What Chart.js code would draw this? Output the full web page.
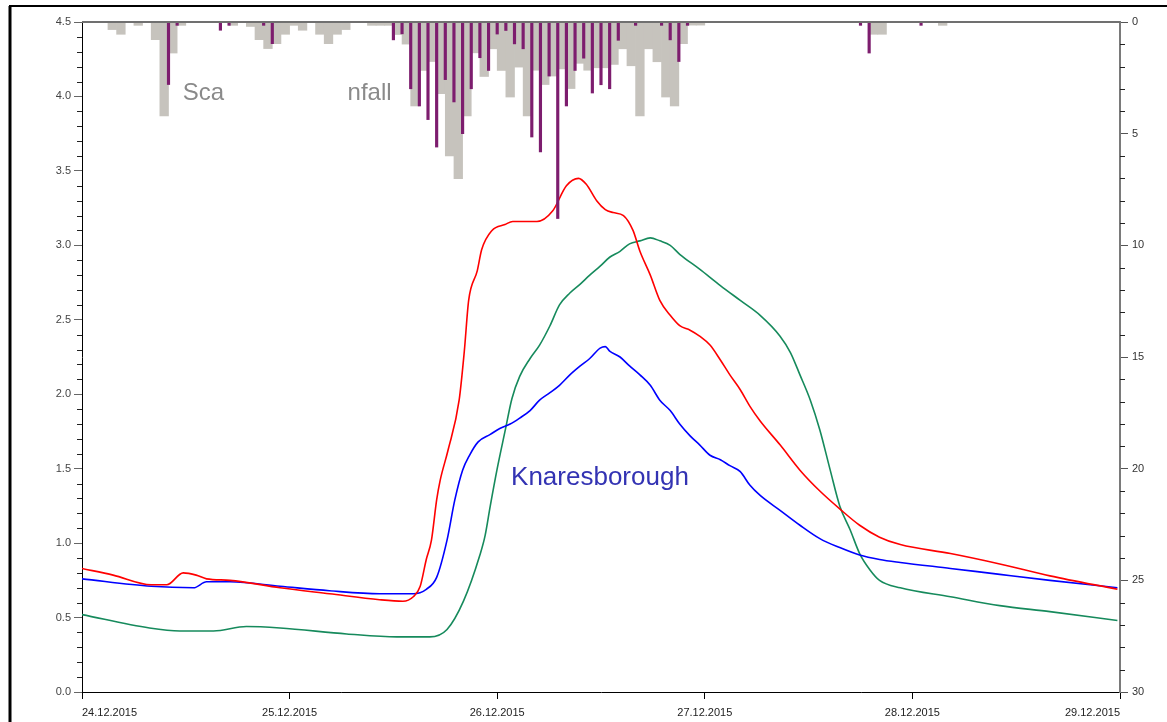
<!DOCTYPE html>
<html><head><meta charset="utf-8">
<script src="https://cdn.jsdelivr.net/npm/chart.js@4/dist/chart.umd.min.js"></script>
<style>html,body{margin:0;padding:0;background:#fff;}canvas{display:block;}</style>
</head><body>
<canvas id="c" width="1167" height="722"></canvas>
<script>
// ---- tick labels ----
const dayLabels = ['24.12.2015','25.12.2015','26.12.2015','27.12.2015','28.12.2015','29.12.2015'];

// ---- river levels (m), time in hours from 24.12.2015 00:00 ----
const redHours = [0,3.6,8.0,9.8,11.7,13.2,14.4,17.1,22.9,28.6,34.4,37.1,38.3,39.1,39.8,40.4,41.0,41.4,42.3,43.6,44.2,44.7,45.7,46.2,47.4,48.9,49.8,52.6,54.4,56.0,57.4,58.3,59.5,60.5,61.4,62.6,63.7,64.5,65.7,66.8,68.0,69.1,70.3,71.4,72.6,73.8,74.9,76.1,77.2,78.4,80.7,83.0,85.3,87.6,89.9,92.2,94.6,100.4,106.1,111.9,119.7];
const redLevel = [0.83,0.785,0.72,0.72,0.80,0.785,0.76,0.75,0.70,0.66,0.62,0.61,0.64,0.71,0.89,1.02,1.29,1.42,1.62,1.96,2.29,2.63,2.83,2.97,3.10,3.14,3.16,3.16,3.23,3.40,3.45,3.41,3.30,3.24,3.22,3.20,3.10,2.96,2.80,2.63,2.53,2.46,2.43,2.39,2.33,2.23,2.13,2.03,1.92,1.82,1.66,1.49,1.35,1.23,1.12,1.04,0.99,0.93,0.86,0.78,0.69];

const blueHours = [0,8.0,12.9,14.4,17.1,22.9,28.6,34.4,38.3,39.8,41.0,42.2,43.1,44.0,44.8,45.8,47.2,48.3,49.5,50.6,51.8,52.9,54.1,55.2,56.4,57.6,58.7,59.9,60.5,61.0,62.2,63.3,64.5,65.7,66.8,68.0,69.1,70.3,71.4,72.6,73.8,74.9,76.1,77.2,78.4,80.7,83.0,85.3,87.6,89.9,92.2,94.6,100.4,106.1,111.9,119.7];
const blueLevel = [0.76,0.71,0.70,0.74,0.74,0.71,0.68,0.66,0.66,0.69,0.77,1.02,1.29,1.49,1.59,1.68,1.73,1.77,1.80,1.84,1.89,1.96,2.01,2.06,2.13,2.19,2.24,2.31,2.32,2.29,2.25,2.19,2.13,2.06,1.96,1.89,1.80,1.72,1.66,1.59,1.56,1.52,1.48,1.39,1.32,1.22,1.12,1.03,0.97,0.92,0.89,0.87,0.83,0.79,0.75,0.70];

const greenHours = [0,7.8,11.3,15.2,19.0,22.9,30.6,36.4,40.2,42.2,44.1,46.0,46.6,47.2,48.0,48.9,49.7,50.6,51.8,52.9,54.1,55.2,56.4,57.6,58.7,59.9,61.0,62.2,63.3,64.5,65.7,66.8,68.0,69.1,71.4,73.8,76.1,78.4,80.7,81.9,83.0,84.2,85.3,86.5,87.6,88.8,89.9,91.1,92.2,94.6,100.4,106.1,111.9,119.7];
const greenLevel = [0.52,0.43,0.41,0.41,0.44,0.43,0.39,0.37,0.37,0.42,0.61,0.92,1.05,1.25,1.50,1.75,1.97,2.12,2.24,2.33,2.46,2.60,2.68,2.74,2.80,2.86,2.92,2.96,3.01,3.03,3.05,3.03,3.00,2.94,2.84,2.73,2.63,2.53,2.39,2.28,2.13,1.96,1.76,1.49,1.25,1.09,0.93,0.82,0.75,0.70,0.64,0.58,0.54,0.48];

// ---- hourly rainfall (mm), hour index = start of hour ----
const greyHours = [3,4,6,8,9,10,11,17,19,20,21,22,23,24,25,27,28,29,30,33,34,35,36,37,38,39,40,41,42,43,44,45,46,47,48,49,50,51,52,53,54,55,56,57,58,59,60,61,62,63,64,65,66,67,68,69,70,71,91,92,99];
const greyRain = [0.34,0.55,0.15,0.79,4.2,1.39,0.15,0.15,0.2,0.79,1.19,0.97,0.55,0.15,0.37,0.55,0.97,0.55,0.34,0.15,0.15,0.15,0.56,0.99,3.76,2.17,1.77,3.21,6.0,7.01,4.21,1.38,2.44,1.2,2.17,3.36,2.02,4.2,2.16,2.8,2.42,2.1,2.98,1.85,2.16,2.05,2.05,1.9,1.2,1.96,4.2,1.2,1.78,3.36,3.76,0.97,0.14,0.14,0.55,0.55,0.15];

const purpleHours = [10,11,16,17,21,22,36,37,38,39,40,41,42,43,44,45,46,47,48,49,50,51,52,53,54,55,56,57,58,59,60,61,62,64,67,68,69,70,90,91,97];
const purpleRain = [2.8,0.15,0.37,0.15,0.15,0.97,0.80,0.53,2.99,3.76,4.37,5.6,2.58,3.58,5.0,2.99,1.6,2.17,0.54,0.38,0.98,1.2,5.15,5.82,2.42,8.8,3.76,2.17,1.62,3.18,2.81,2.99,0.82,0.15,0.15,0.8,1.77,0.15,0.15,1.39,0.15];

// ---- text annotations (data coordinates) ----
const gaugeLabelParts = [{text:'Sca', hour:11.65, mm:3.5}, {text:'nfall', hour:30.7, mm:3.5}];
const stationLabel = {text:'Knaresborough', hour:49.6, level:1.39};

const FONT = "'Liberation Sans', Arial, sans-serif";
Chart.defaults.font.family = FONT;

const pts = (hs, vs, dx) => hs.map((h, i) => ({x: h + (dx || 0), y: vs[i]}));

const decor = {
  id: 'decor',
  beforeDatasetsDraw(chart) {
    const {ctx, scales} = chart;
    ctx.save();
    ctx.font = '24px ' + FONT;
    ctx.fillStyle = '#8a8a8a';
    ctx.textBaseline = 'alphabetic';
    ctx.textAlign = 'left';
    gaugeLabelParts.forEach(p => {
      ctx.fillText(p.text, scales.x.getPixelForValue(p.hour), scales.y2.getPixelForValue(p.mm));
    });
    ctx.restore();
  },
  afterDraw(chart) {
    const {ctx, scales, chartArea} = chart;
    const y = scales.y, y2 = scales.y2;
    ctx.save();
    // top plot line
    ctx.strokeStyle = '#707070'; ctx.lineWidth = 2;
    ctx.beginPath(); ctx.moveTo(chartArea.left, chartArea.top); ctx.lineTo(chartArea.right, chartArea.top); ctx.stroke();
    // minor ticks
    ctx.strokeStyle = '#222'; ctx.lineWidth = 1;
    for (let k = 0; k <= 45; k++) {
      if (k % 5 === 0) continue;
      const py = Math.round(y.getPixelForValue(k / 10)) + 0.5;
      ctx.beginPath(); ctx.moveTo(y.right - 5, py); ctx.lineTo(y.right, py); ctx.stroke();
    }
    for (let k = 0; k <= 30; k++) {
      if (k % 5 === 0) continue;
      const py = Math.round(y2.getPixelForValue(k)) + 0.5;
      ctx.beginPath(); ctx.moveTo(y2.left, py); ctx.lineTo(y2.left + 5, py); ctx.stroke();
    }
    // station label
    ctx.font = '26px ' + FONT;
    ctx.fillStyle = '#3333b3';
    ctx.textAlign = 'left'; ctx.textBaseline = 'alphabetic';
    ctx.fillText(stationLabel.text, scales.x.getPixelForValue(stationLabel.hour), y.getPixelForValue(stationLabel.level));
    // outer frame
    ctx.strokeStyle = '#000';
    ctx.lineWidth = 3;
    ctx.beginPath(); ctx.moveTo(10, 730); ctx.lineTo(10, 6); ctx.stroke();
    ctx.lineWidth = 2;
    ctx.beginPath(); ctx.moveTo(9, 6); ctx.lineTo(1180, 6); ctx.stroke();
    ctx.restore();
  }
};

new Chart(document.getElementById('c'), {
  type: 'line',
  data: {
    datasets: [
      {type:'line', data: pts(redHours, redLevel), borderColor:'#ff0000', borderWidth:1.6, pointRadius:0, cubicInterpolationMode:'monotone', xAxisID:'x', yAxisID:'y', order:3},
      {type:'line', data: pts(blueHours, blueLevel), borderColor:'#0000ff', borderWidth:1.6, pointRadius:0, cubicInterpolationMode:'monotone', xAxisID:'x', yAxisID:'y', order:3},
      {type:'line', data: pts(greenHours, greenLevel), borderColor:'#168a5c', borderWidth:1.6, pointRadius:0, cubicInterpolationMode:'monotone', xAxisID:'x', yAxisID:'y', order:3},
      {type:'bar', data: pts(greyHours, greyRain, 0.5), backgroundColor:'#c6c3bd', borderWidth:0, barPercentage:1, categoryPercentage:1, grouped:false, xAxisID:'x', yAxisID:'y2', order:2},
      {type:'bar', data: pts(purpleHours, purpleRain), backgroundColor:'#7d1d6e', borderWidth:0, barThickness:2.5, grouped:false, xAxisID:'x2', yAxisID:'y2', order:1}
    ]
  },
  options: {
    responsive: false,
    animation: false,
    events: [],
    layout: {padding: {top: 22, left: 0, right: 0, bottom: 0}},
    plugins: {legend: {display: false}, tooltip: {enabled: false}},
    scales: {
      x: {
        type: 'linear', position: 'bottom', min: 0, max: 120, offset: false,
        afterBuildTicks: s => { s.ticks = dayLabels.map((_, i) => ({value: i * 24})); },
        ticks: {align: 'inner', autoSkip: false, maxRotation: 0, padding: 7, color: '#222', font: {size: 11},
                callback: v => dayLabels[Math.round(v / 24)]},
        grid: {display: true, drawOnChartArea: false, drawTicks: true, tickLength: 7, color: '#000', offset: false},
        border: {display: true, color: '#000', width: 1},
        afterFit: s => { s.height = 30; }
      },
      x2: {type: 'linear', min: 0, max: 120, display: false, offset: false, grid: {offset: false}},
      y: {
        type: 'linear', position: 'left', min: 0, max: 4.5,
        ticks: {stepSize: 0.5, padding: 3, color: '#444', font: {size: 11}, callback: v => v.toFixed(1)},
        grid: {display: true, drawOnChartArea: false, drawTicks: true, tickLength: 8, color: '#666'},
        border: {display: true, color: '#000', width: 1},
        afterFit: s => { s.width = 82; }
      },
      y2: {
        type: 'linear', position: 'right', reverse: true, min: 0, max: 30,
        ticks: {stepSize: 5, padding: 4, color: '#333', font: {size: 11}},
        grid: {display: true, drawOnChartArea: false, drawTicks: true, tickLength: 8, color: '#555'},
        border: {display: true, color: '#7a7a7a', width: 2},
        afterFit: s => { s.width = 47; }
      }
    }
  },
  plugins: [decor]
});
</script>
</body></html>
